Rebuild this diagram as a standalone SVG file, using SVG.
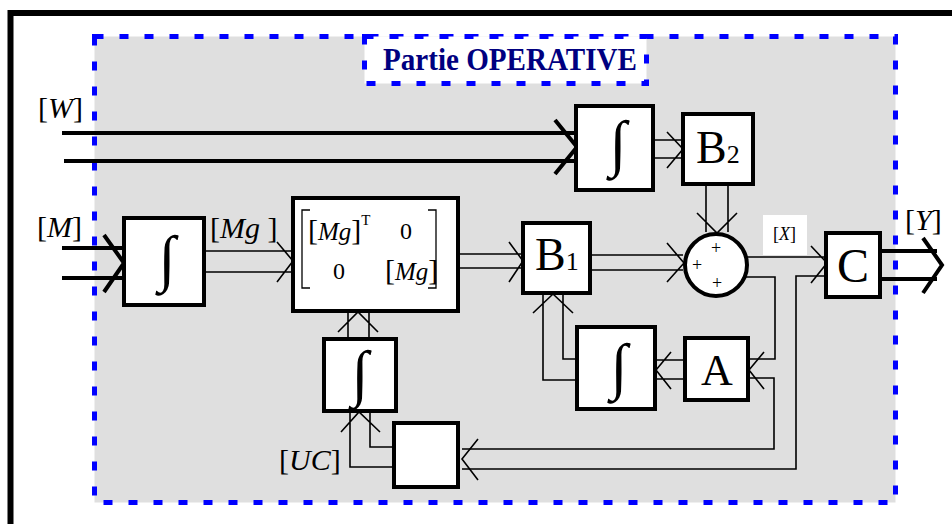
<svg xmlns="http://www.w3.org/2000/svg" width="952" height="524" viewBox="0 0 952 524">
<style>
.box{fill:#fff;stroke:#000;stroke-width:4}
.thin{fill:none;stroke:#000;stroke-width:1.6}
.thick{fill:none;stroke:#000;stroke-width:4}
.t{font-family:"Liberation Serif","Times New Roman",serif;fill:#000}
.lbl{font-size:30px}
.int{font-size:62px;text-anchor:middle}
.big{font-size:46px}
.dash{fill:none;stroke:#0000ff;stroke-width:5;stroke-dasharray:9 16}
.it{font-style:italic}
.pl{font-size:18px;text-anchor:middle}
</style>
<rect width="952" height="524" fill="#fff"/>
<path d="M10.5,524 V13 H952" fill="none" stroke="#000" stroke-width="6"/>
<rect x="94.5" y="36.5" width="801" height="466" fill="#dfdfdf"/>
<rect x="94.5" y="36.5" width="801" height="466" class="dash"/>
<g id="title">
<rect x="364.5" y="36.5" width="282" height="47" fill="#fff"/>
<rect x="364.5" y="36.5" width="282" height="47" class="dash"/>
<text x="383" y="70" class="t" font-weight="bold" font-size="31" textLength="254" lengthAdjust="spacingAndGlyphs" style="fill:#000080">Partie OPERATIVE</text>
</g>
<g id="labels" class="t lbl">
<text x="38" y="118">[<tspan class="it">W</tspan>]</text>
<text x="37" y="237">[<tspan class="it">M</tspan>]</text>
<text x="210" y="238">[<tspan class="it">Mg</tspan> ]</text>
<text x="279" y="470">[<tspan class="it">UC</tspan>]</text>
<text x="905" y="230">[<tspan class="it">Y</tspan>]</text>
</g>
<g id="connectors">
<path class="thick" d="M62,133 H575 M64,161 H575 M555,120 L577,147 L555,174"/>
<path class="thick" d="M62,248 H122 M62,278 H122 M104,235 L124,263 L104,292"/>
<path class="thin" d="M206,251 H291 M206,272 H291 M277,242 L293,261 L277,282"/>
<path class="thin" d="M460,254 H521 M460,268 H521 M509,242 L523,261 L509,282"/>
<path class="thin" d="M592,255 H683 M592,270 H683 M667,243 L684,263 L667,282"/>
<path class="thin" d="M655,140 H681 M655,158 H681 M667,132 L683,149 L667,168"/>
<path class="thin" d="M706,186 V232 M728,186 V232 M697,213 L717,233 L737,213"/>
<path class="thin" d="M747,257 H825 M811,246 L827,263 L811,283"/>
<path class="thin" d="M825,276 H796 V469 H462"/>
<path class="thin" d="M744,277 H775 V359 H750"/>
<path class="thin" d="M750,378 H774 V449 H462"/>
<path class="thin" d="M764,352 L749,370 L764,389"/>
<path class="thin" d="M683,360 H657 M683,379 H657 M671,352 L656,370 L671,389"/>
<path class="thin" d="M577,359 H563 V295 M577,380 H543 V295 M533,313 L553,294 L573,313"/>
<path class="thin" d="M478,439 L462,459 L478,480"/>
<path class="thin" d="M394,447 H370 V413 M394,467 H350 V413 M341,432 L359,412 L380,432"/>
<path class="thin" d="M348,337 V312 M369,337 V312 M338,332 L358,312 L378,332"/>
<path class="thick" d="M882,251 H937 M882,279 H937 M923,238 L942,265 L923,293"/>
</g>
<g id="intW">
<rect x="576" y="106" width="77" height="84" class="box"/>
<text x="618" y="164" class="t int">∫</text>
</g>
<g id="B2">
<rect x="683" y="114" width="70" height="70" class="box"/>
<text x="696" y="163" class="t big">B<tspan font-size="26">2</tspan></text>
</g>
<g id="intM">
<rect x="124" y="218" width="80" height="87" class="box"/>
<text x="167" y="279" class="t int">∫</text>
</g>
<g id="matrix">
<rect x="293" y="198" width="165" height="113" class="box"/>
<path class="thin" style="stroke-width:1.3" d="M310,210 H302 V288 H310 M428,210 H436 V288 H428"/>
<text x="308" y="240" class="t" font-size="25"><tspan font-size="30">[</tspan><tspan class="it">Mg</tspan><tspan font-size="30">]</tspan><tspan font-size="15" dy="-15">T</tspan></text>
<text x="406" y="239" class="t" font-size="24" text-anchor="middle">0</text>
<text x="339" y="279" class="t" font-size="24" text-anchor="middle">0</text>
<text x="385" y="280" class="t" font-size="25"><tspan font-size="30">[</tspan><tspan class="it">Mg</tspan><tspan font-size="30">]</tspan></text>
</g>
<g id="B1">
<rect x="523" y="223" width="67" height="70" class="box"/>
<text x="535" y="270" class="t big">B<tspan font-size="26">1</tspan></text>
</g>
<g id="sum">
<circle cx="716" cy="265" r="31" class="box"/>
<text x="716" y="254" class="t pl">+</text>
<text x="697" y="271" class="t pl">+</text>
<text x="717" y="289" class="t pl">+</text>
</g>
<g id="X">
<rect x="763" y="215" width="44" height="40" fill="#fff"/>
<text x="773" y="240" class="t" font-size="18">[<tspan class="it">X</tspan>]</text>
</g>
<g id="C">
<rect x="826" y="233" width="54" height="64" class="box"/>
<text x="853" y="282" class="t" font-size="48" text-anchor="middle">C</text>
</g>
<g id="A">
<rect x="685" y="338" width="63" height="62" class="box"/>
<text x="717" y="385" class="t" font-size="44" text-anchor="middle">A</text>
</g>
<g id="intA">
<rect x="577" y="327" width="78" height="82" class="box"/>
<text x="619" y="387" class="t int">∫</text>
</g>
<g id="intUC">
<rect x="324" y="339" width="72" height="72" class="box"/>
<text x="360" y="394" class="t int">∫</text>
</g>
<g id="empty">
<rect x="394" y="423" width="64" height="64" class="box"/>
</g>
</svg>
